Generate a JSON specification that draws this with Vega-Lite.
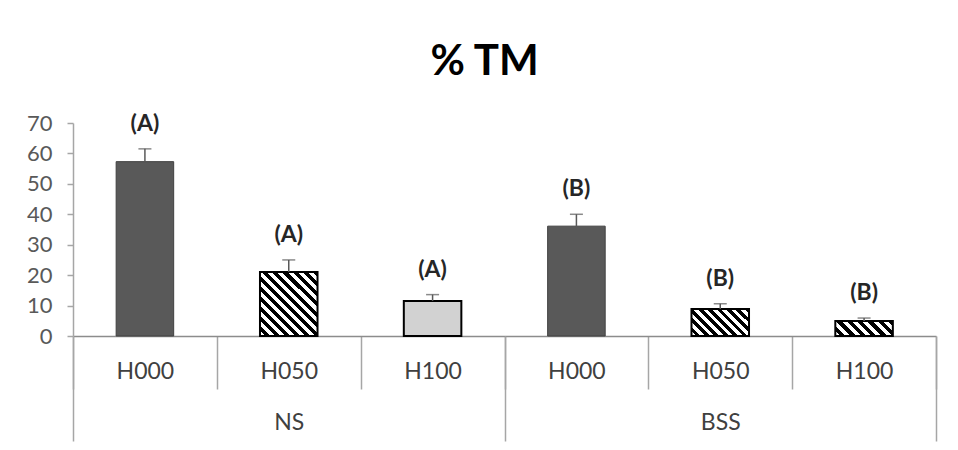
{
  "$schema": "https://vega.github.io/schema/vega-lite/v6.json",
  "width": 863,
  "height": 213,
  "autosize": {"type": "none"},
  "padding": {"left": 73, "top": 123, "right": 22, "bottom": 114},
  "background": "white",
  "config": {"view": {"stroke": null}, "font": "Lato"},
  "title": {"text": "% TM", "font": "Lato", "fontSize": 42, "fontWeight": "bold", "color": "#000000", "anchor": "middle", "frame": "group", "baseline": "alphabetic", "offset": 48, "dx": -20, "dy": 53},
  "data": {"values": [
    {"group": "NS", "treat": "H000", "id": "NS-H000", "value": 57.3, "upper": 61.5, "sig": "(A)"},
    {"group": "NS", "treat": "H050", "id": "NS-H050", "value": 21.0, "upper": 25.0, "sig": "(A)"},
    {"group": "NS", "treat": "H100", "id": "NS-H100", "value": 11.5, "upper": 13.6, "sig": "(A)"},
    {"group": "BSS", "treat": "H000", "id": "BSS-H000", "value": 36.1, "upper": 40.0, "sig": "(B)"},
    {"group": "BSS", "treat": "H050", "id": "BSS-H050", "value": 8.9, "upper": 10.6, "sig": "(B)"},
    {"group": "BSS", "treat": "H100", "id": "BSS-H100", "value": 4.9, "upper": 5.9, "sig": "(B)"}
  ]},
  "layer": [
    {
      "layer": [
        {
          "mark": {"type": "bar", "width": {"band": 0.4}},
          "encoding": {
            "x": {"field": "id", "type": "nominal", "sort": null,
              "scale": {"type": "band", "paddingInner": 0, "paddingOuter": 0},
              "axis": {"title": null, "orient": "bottom", "labelExpr": "split(datum.label, '-')[1]", "labelAngle": 0,
                "tickBand": "extent", "tickSize": 53, "tickColor": "#a6a6a6", "tickWidth": 1.5,
                "domainColor": "#8c8c8c", "domainWidth": 1.5,
                "labelFont": "Lato", "labelFontSize": 23, "labelColor": "#404040", "labelPadding": -29, "labelBaseline": "top"}},
            "y": {"field": "value", "type": "quantitative", "scale": {"domain": [0, 70]},
              "axis": {"title": null, "tickCount": 7, "grid": false, "domainColor": "#a6a6a6", "domainWidth": 1.5,
                "tickColor": "#a6a6a6", "tickWidth": 1.5, "tickSize": 6,
                "labelFont": "Lato", "labelFontSize": 22, "labelColor": "#595959", "labelPadding": 15}},
            "fill": {
              "condition": [
                {"test": "datum.id === 'NS-H050'", "value": {"gradient": "linear", "x1": 0, "y1": 1, "x2": 0.9447, "y2": -0.0499, "stops": [
                  {"offset": 0, "color": "#ffffff"}, {"offset": 0.0417, "color": "#ffffff"}, {"offset": 0.0417, "color": "#000000"}, {"offset": 0.0833, "color": "#000000"},
                  {"offset": 0.0833, "color": "#ffffff"}, {"offset": 0.125, "color": "#ffffff"}, {"offset": 0.125, "color": "#000000"}, {"offset": 0.1667, "color": "#000000"},
                  {"offset": 0.1667, "color": "#ffffff"}, {"offset": 0.2083, "color": "#ffffff"}, {"offset": 0.2083, "color": "#000000"}, {"offset": 0.25, "color": "#000000"},
                  {"offset": 0.25, "color": "#ffffff"}, {"offset": 0.2917, "color": "#ffffff"}, {"offset": 0.2917, "color": "#000000"}, {"offset": 0.3333, "color": "#000000"},
                  {"offset": 0.3333, "color": "#ffffff"}, {"offset": 0.375, "color": "#ffffff"}, {"offset": 0.375, "color": "#000000"}, {"offset": 0.4167, "color": "#000000"},
                  {"offset": 0.4167, "color": "#ffffff"}, {"offset": 0.4583, "color": "#ffffff"}, {"offset": 0.4583, "color": "#000000"}, {"offset": 0.5, "color": "#000000"},
                  {"offset": 0.5, "color": "#ffffff"}, {"offset": 0.5417, "color": "#ffffff"}, {"offset": 0.5417, "color": "#000000"}, {"offset": 0.5833, "color": "#000000"},
                  {"offset": 0.5833, "color": "#ffffff"}, {"offset": 0.625, "color": "#ffffff"}, {"offset": 0.625, "color": "#000000"}, {"offset": 0.6667, "color": "#000000"},
                  {"offset": 0.6667, "color": "#ffffff"}, {"offset": 0.7083, "color": "#ffffff"}, {"offset": 0.7083, "color": "#000000"}, {"offset": 0.75, "color": "#000000"},
                  {"offset": 0.75, "color": "#ffffff"}, {"offset": 0.7917, "color": "#ffffff"}, {"offset": 0.7917, "color": "#000000"}, {"offset": 0.8333, "color": "#000000"},
                  {"offset": 0.8333, "color": "#ffffff"}, {"offset": 0.875, "color": "#ffffff"}, {"offset": 0.875, "color": "#000000"}, {"offset": 0.9167, "color": "#000000"},
                  {"offset": 0.9167, "color": "#ffffff"}, {"offset": 0.9583, "color": "#ffffff"}, {"offset": 0.9583, "color": "#000000"}, {"offset": 1, "color": "#000000"}
                ]}},
                {"test": "datum.id === 'BSS-H050'", "value": {"gradient": "linear", "x1": 0, "y1": 1, "x2": 1.2039, "y2": 0.4326, "stops": [
                  {"offset": 0, "color": "#ffffff"}, {"offset": 0.0556, "color": "#ffffff"}, {"offset": 0.0556, "color": "#000000"}, {"offset": 0.1111, "color": "#000000"},
                  {"offset": 0.1111, "color": "#ffffff"}, {"offset": 0.1667, "color": "#ffffff"}, {"offset": 0.1667, "color": "#000000"}, {"offset": 0.2222, "color": "#000000"},
                  {"offset": 0.2222, "color": "#ffffff"}, {"offset": 0.2778, "color": "#ffffff"}, {"offset": 0.2778, "color": "#000000"}, {"offset": 0.3333, "color": "#000000"},
                  {"offset": 0.3333, "color": "#ffffff"}, {"offset": 0.3889, "color": "#ffffff"}, {"offset": 0.3889, "color": "#000000"}, {"offset": 0.4444, "color": "#000000"},
                  {"offset": 0.4444, "color": "#ffffff"}, {"offset": 0.5, "color": "#ffffff"}, {"offset": 0.5, "color": "#000000"}, {"offset": 0.5556, "color": "#000000"},
                  {"offset": 0.5556, "color": "#ffffff"}, {"offset": 0.6111, "color": "#ffffff"}, {"offset": 0.6111, "color": "#000000"}, {"offset": 0.6667, "color": "#000000"},
                  {"offset": 0.6667, "color": "#ffffff"}, {"offset": 0.7222, "color": "#ffffff"}, {"offset": 0.7222, "color": "#000000"}, {"offset": 0.7778, "color": "#000000"},
                  {"offset": 0.7778, "color": "#ffffff"}, {"offset": 0.8333, "color": "#ffffff"}, {"offset": 0.8333, "color": "#000000"}, {"offset": 0.8889, "color": "#000000"},
                  {"offset": 0.8889, "color": "#ffffff"}, {"offset": 0.9444, "color": "#ffffff"}, {"offset": 0.9444, "color": "#000000"}, {"offset": 1, "color": "#000000"}
                ]}},
                {"test": "datum.id === 'BSS-H100'", "value": {"gradient": "linear", "x1": 0, "y1": 1, "x2": 1.1799, "y2": 0.6943, "stops": [
                  {"offset": 0, "color": "#ffffff"}, {"offset": 0.0714, "color": "#ffffff"}, {"offset": 0.0714, "color": "#000000"}, {"offset": 0.1429, "color": "#000000"},
                  {"offset": 0.1429, "color": "#ffffff"}, {"offset": 0.2143, "color": "#ffffff"}, {"offset": 0.2143, "color": "#000000"}, {"offset": 0.2857, "color": "#000000"},
                  {"offset": 0.2857, "color": "#ffffff"}, {"offset": 0.3571, "color": "#ffffff"}, {"offset": 0.3571, "color": "#000000"}, {"offset": 0.4286, "color": "#000000"},
                  {"offset": 0.4286, "color": "#ffffff"}, {"offset": 0.5, "color": "#ffffff"}, {"offset": 0.5, "color": "#000000"}, {"offset": 0.5714, "color": "#000000"},
                  {"offset": 0.5714, "color": "#ffffff"}, {"offset": 0.6429, "color": "#ffffff"}, {"offset": 0.6429, "color": "#000000"}, {"offset": 0.7143, "color": "#000000"},
                  {"offset": 0.7143, "color": "#ffffff"}, {"offset": 0.7857, "color": "#ffffff"}, {"offset": 0.7857, "color": "#000000"}, {"offset": 0.8571, "color": "#000000"},
                  {"offset": 0.8571, "color": "#ffffff"}, {"offset": 0.9286, "color": "#ffffff"}, {"offset": 0.9286, "color": "#000000"}, {"offset": 1, "color": "#000000"}
                ]}},
                {"test": "datum.id === 'NS-H100'", "value": "#d2d2d2"}
              ],
              "value": "#595959"
            },
            "stroke": {"condition": {"test": "datum.treat === 'H000'", "value": "#404040"}, "value": "#000000"},
            "strokeWidth": {"condition": {"test": "datum.treat === 'H000'", "value": 1}, "value": 2}
          }
        },
        {
          "mark": {"type": "rule", "color": "#595959", "strokeWidth": 1.5},
          "encoding": {
            "x": {"field": "id", "type": "nominal", "sort": null},
            "y": {"field": "value", "type": "quantitative"},
            "y2": {"field": "upper"}
          }
        },
        {
          "mark": {"type": "tick", "color": "#595959", "thickness": 1.5, "size": 13},
          "encoding": {
            "x": {"field": "id", "type": "nominal", "sort": null},
            "y": {"field": "upper", "type": "quantitative"}
          }
        },
        {
          "mark": {"type": "text", "font": "Lato", "fontSize": 23, "fontWeight": "bold", "color": "#262626", "baseline": "middle", "dy": -25},
          "encoding": {
            "x": {"field": "id", "type": "nominal", "sort": null},
            "y": {"field": "upper", "type": "quantitative"},
            "text": {"field": "sig"}
          }
        }
      ]
    },
    {
      "mark": {"type": "point", "opacity": 0},
      "encoding": {
        "x": {"field": "group", "type": "nominal", "sort": ["NS", "BSS"],
          "scale": {"type": "band", "paddingInner": 0, "paddingOuter": 0},
          "axis": {"title": null, "orient": "bottom", "labelAngle": 0, "domain": false,
            "tickBand": "extent", "tickSize": 105, "tickColor": "#a6a6a6", "tickWidth": 1.5,
            "labelFont": "Lato", "labelFontSize": 23, "labelColor": "#404040", "labelPadding": -30, "labelBaseline": "top"}}
      }
    }
  ],
  "resolve": {"scale": {"x": "independent"}}
}
